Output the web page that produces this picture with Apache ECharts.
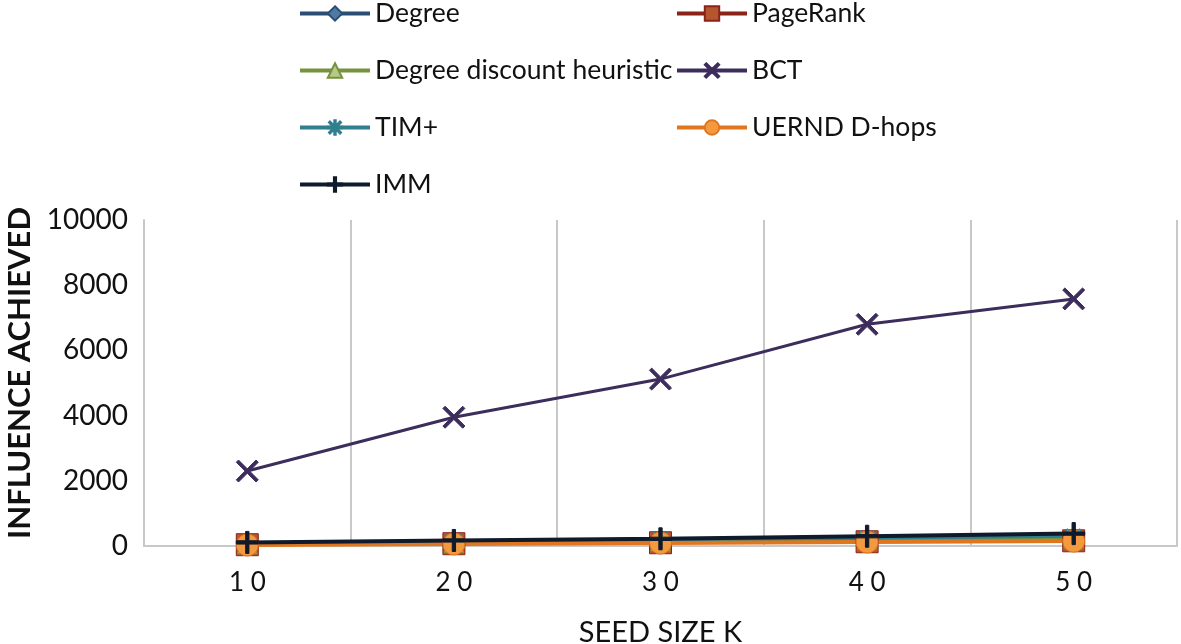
<!DOCTYPE html>
<html>
<head>
<meta charset="utf-8">
<script src="https://cdn.jsdelivr.net/npm/echarts@6/dist/echarts.min.js"></script>
<style>
  html, body { margin: 0; padding: 0; background: #fff; }
  #main { width: 1181px; height: 644px; }
</style>
</head>
<body>
<div id="main"></div>
<script>
    // data
    let seedSizes = ['10', '20', '30', '40', '50'];
    let degree = [60, 100, 140, 180, 220];
    let pageRank = [40, 70, 100, 130, 160];
    let degreeDiscount = [70, 110, 150, 200, 240];
    let bct = [2300, 3950, 5120, 6800, 7580];
    let timPlus = [90, 140, 190, 240, 300];
    let uernd = [30, 60, 90, 120, 150];
    let imm = [110, 170, 220, 300, 380];

    let font = 'Lato';

    // marker shapes
    let xMark = 'path://M2,0L10,8L18,0L20,2L12,10L20,18L18,20L10,12L2,20L0,18L8,10L0,2Z';
    let plusMark = 'path://M8.5,0H11.5V8.5H20V11.5H11.5V20H8.5V11.5H0V8.5H8.5Z';
    let starMark = 'path://M9,0H11V9H20V11H11V20H9V11H0V9H9Z M3,1.6L10,8.6L17,1.6L18.4,3L11.4,10L18.4,17L17,18.4L10,11.4L3,18.4L1.6,17L8.6,10L1.6,3Z';

    function makeSeries(name, data, color, fill, symbol, size, width) {
        return {
            name: name,
            type: 'line',
            data: data,
            symbol: symbol,
            symbolSize: size,
            showAllSymbol: true,
            lineStyle: { color: color, width: width },
            itemStyle: { color: fill, borderColor: color, borderWidth: 1 }
        };
    }

    let series = [
        makeSeries('Degree', degree, '#2b4f74', '#4f7aa3', 'diamond', 20, 3),
        makeSeries('PageRank', pageRank, '#8c2318', '#b4572f', 'rect', 22, 3),
        makeSeries('Degree discount heuristic', degreeDiscount, '#77923c', '#b6c98a', 'triangle', 20, 3),
        makeSeries('BCT', bct, '#3c2d5c', '#3c2d5c', xMark, 22, 3),
        makeSeries('TIM+', timPlus, '#2f7f8f', '#4aa3b3', starMark, 18, 3),
        makeSeries('UERND D-hops', uernd, '#e0761e', '#f39a3f', 'circle', 22, 4),
        makeSeries('IMM', imm, '#0f1a2c', '#0f1a2c', plusMark, 22, 4)
    ];

    let legendBase = {
        orient: 'vertical',
        top: -5,
        itemWidth: 70,
        itemHeight: 18,
        itemGap: 30,
        lineStyle: { width: 4 },
        textStyle: { fontFamily: font, fontSize: 26.5, color: '#111' },
        selectedMode: false
    };

    let myChart = echarts.init(document.getElementById('main'));
    let option = {
        animation: false,
        backgroundColor: '#fff',
        legend: [
            Object.assign({}, legendBase, {
                left: 293,
                data: ['Degree', 'Degree discount heuristic', 'TIM+', 'IMM']
            }),
            Object.assign({}, legendBase, {
                left: 670,
                data: ['PageRank', 'BCT', 'UERND D-hops']
            })
        ],
        grid: {
            left: 144,
            right: 4,
            top: 220,
            bottom: 98,
            containLabel: false,
            outerBoundsMode: 'none'
        },
        xAxis: {
            type: 'category',
            data: seedSizes,
            boundaryGap: true,
            name: 'SEED SIZE K',
            nameLocation: 'middle',
            nameGap: 72,
            nameTextStyle: { fontFamily: font, fontSize: 29, color: '#111' },
            axisLine: { lineStyle: { color: '#c8c8c8', width: 2 } },
            axisTick: { show: false },
            axisLabel: {
                margin: 24,
                fontFamily: font,
                fontSize: 26,
                color: '#111',
                formatter: function (v) { return v.split('').join(' '); }
            },
            splitLine: { show: true, lineStyle: { color: '#c8c8c8', width: 2 } }
        },
        yAxis: {
            type: 'value',
            min: 0,
            max: 10000,
            interval: 2000,
            name: 'INFLUENCE ACHIEVED',
            nameLocation: 'middle',
            nameGap: 106,
            nameTextStyle: {
                fontFamily: font,
                fontSize: 31,
                fontWeight: 'bold',
                color: '#111',
                padding: [0, 0, 0, 20]
            },
            axisLine: { show: true, lineStyle: { color: '#c8c8c8', width: 2 } },
            axisTick: { show: false },
            axisLabel: {
                margin: 16,
                fontFamily: font,
                fontSize: 28,
                color: '#111',
                formatter: function (v) { return String(v); }
            },
            splitLine: { show: false }
        },
        series: series
    };
    myChart.setOption(option);
</script>
</body>
</html>
